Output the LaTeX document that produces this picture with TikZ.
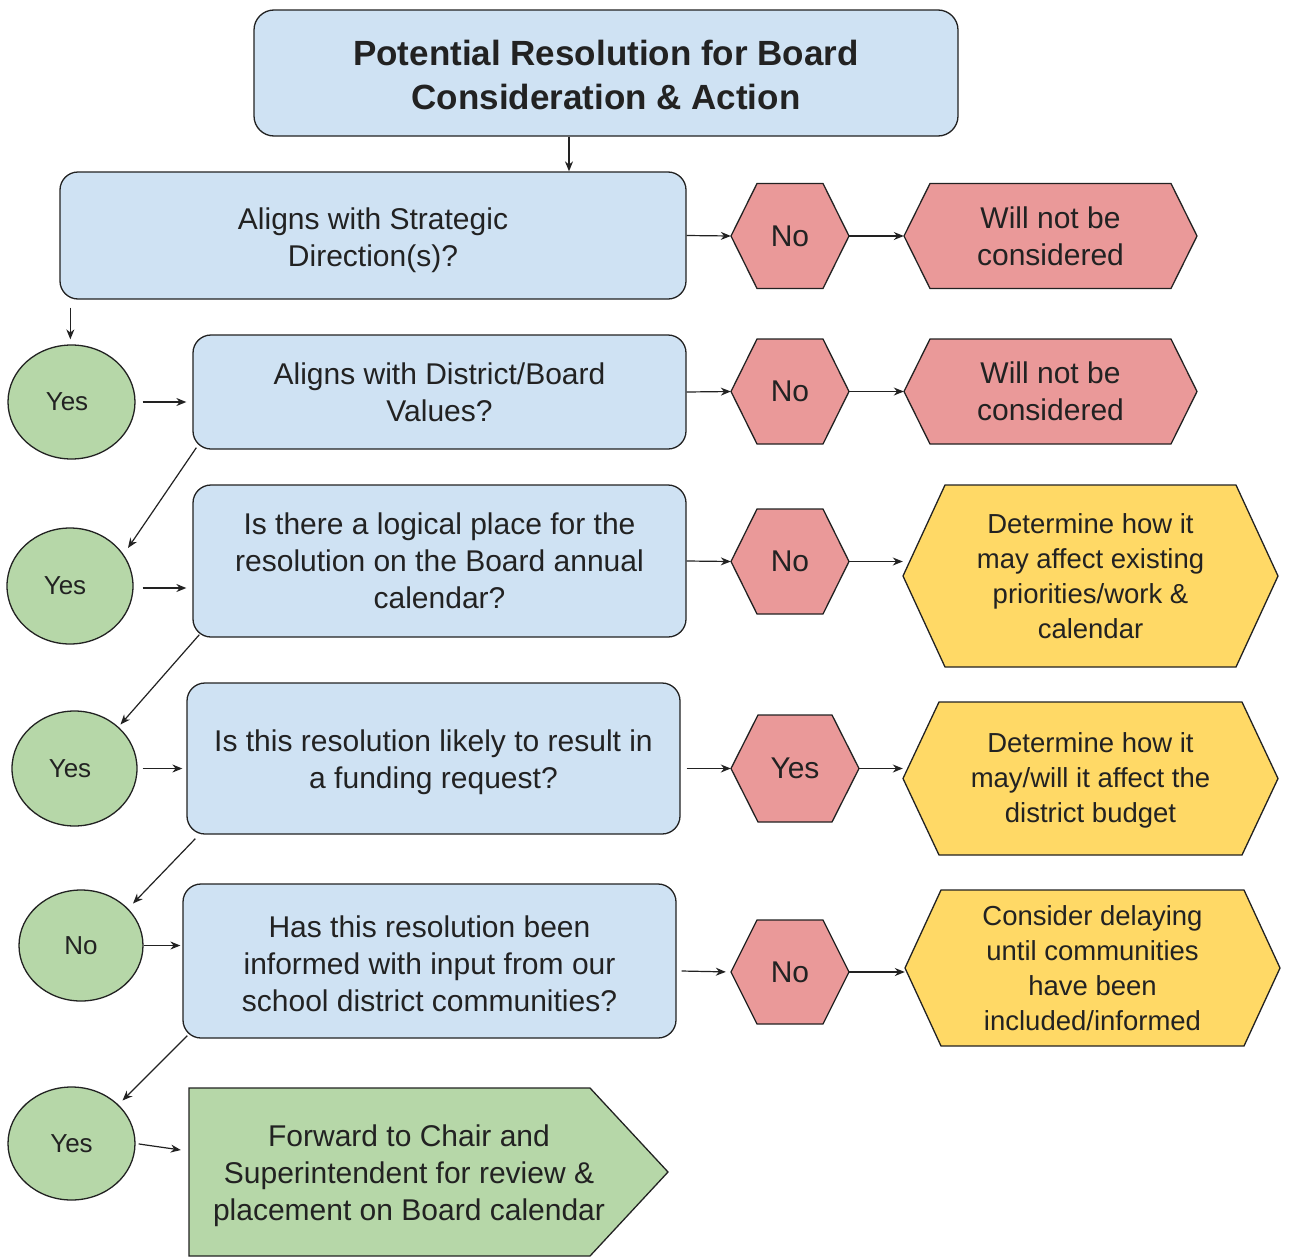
\documentclass[tikz,border=0pt]{standalone}
\usepackage{fontspec}
\setmainfont{Liberation Sans}
\usetikzlibrary{arrows.meta,shapes.geometric}
\definecolor{bblue}{HTML}{CFE2F3}
\definecolor{bred}{HTML}{EA9999}
\definecolor{byel}{HTML}{FFD966}
\definecolor{bgreen}{HTML}{B6D7A8}
\definecolor{ink}{HTML}{222222}
\newcommand\ftitle{\fontsize{35}{44}\selectfont\bfseries}
\newcommand\fmain{\fontsize{30}{37}\selectfont}
\newcommand\fyel{\fontsize{27.5}{35}\selectfont}
\newcommand\fyes{\fontsize{26}{32}\selectfont}
% name, fill, cx, cy, halfwidth, halfheight, inset, font, text
\newcommand\hexbox[9]{%
  \path[draw=ink, line width=1.3pt, fill=#2] (#3-#5,#4) -- (#3-#5+#7,#4-#6) -- (#3+#5-#7,#4-#6) -- (#3+#5,#4) -- (#3+#5-#7,#4+#6) -- (#3-#5+#7,#4+#6) -- cycle;
  \node[hexlabel, minimum width=2*#5, minimum height=2*#6, font=#8] (#1) at (#3,#4) {#9};
}
\tikzset{
  hexlabel/.style={inner sep=0pt, align=center, text=ink},
  rbox/.style={draw=ink, line width=1.3pt, fill=bblue, rounded corners=18pt, align=center, inner sep=0pt, font=\fmain, text=ink},
  circ/.style={ellipse, draw=ink, line width=1.3pt, fill=bgreen, inner sep=0pt, font=\fyes, text=ink},
  arr/.style={draw=ink, line width=1.2pt, -{Stealth[length=10pt,width=8pt]}}
}
\begin{document}
\begin{tikzpicture}[x=1pt,y=-1pt]
\fill[white] (0,0) rectangle (1293,1258);
\useasboundingbox (0,0) rectangle (1293,1258);

% blue question boxes
\node[rbox, font=\ftitle, minimum width=704, minimum height=126, rounded corners=20pt] (title) at (606,73) {\rule{0pt}{29pt}Potential Resolution for Board\\Consideration \& Action};
\node[rbox, minimum width=626, minimum height=127] (b1) at (373,235.5) {\rule{0pt}{31pt}Aligns with Strategic\\Direction(s)?};
\node[rbox, minimum width=493, minimum height=114] (b2) at (439.5,392) {Aligns with District/Board\\Values?};
\node[rbox, minimum width=493, minimum height=152] (b3) at (439.5,561) {Is there a logical place for the\\resolution on the Board annual\\calendar?};
\node[rbox, minimum width=493, minimum height=151] (b4) at (433.5,758.5) {\rule{0pt}{30pt}Is this resolution likely to result in\\a funding request?};
\node[rbox, minimum width=493, minimum height=154] (b5) at (429.5,961) {\rule{0pt}{27pt}Has this resolution been\\informed with input from our\\school district communities?};

% green circles
\node[circ, minimum width=127, minimum height=114] (c1) at (71.5,402) {Yes\hspace*{9pt}};
\node[circ, minimum width=126, minimum height=116] (c2) at (70,586) {Yes\hspace*{10pt}};
\node[circ, minimum width=125, minimum height=115] (c3) at (74.5,768.5) {Yes\hspace*{9pt}};
\node[circ, minimum width=124, minimum height=111] (c4) at (81,945.5) {No};
\node[circ, minimum width=127, minimum height=113] (c5) at (71.5,1143.5) {Yes};

% red decision hexagons
\hexbox{h1}{bred}{790}{236}{59}{52.5}{26}{\fmain}{No}
\hexbox{h2}{bred}{790}{391.5}{59}{52.5}{26}{\fmain}{No}
\hexbox{h3}{bred}{790}{561.5}{59}{52.5}{26}{\fmain}{No}
\hexbox{h4}{bred}{795}{768.5}{64}{53.5}{27}{\fmain}{Yes}
\hexbox{h5}{bred}{790}{972}{59}{52}{26}{\fmain}{No}

% outcome hexagons
\hexbox{w1}{bred}{1050.5}{236}{146.5}{52.5}{26}{\fmain}{Will not be\\considered}
\hexbox{w2}{bred}{1050.5}{391.5}{146.5}{52.5}{26}{\fmain}{Will not be\\considered}
\hexbox{y3}{byel}{1090.5}{576}{187.5}{91}{42}{\fyel}{Determine how it\\may affect existing\\priorities/work \&\\calendar}
\hexbox{y4}{byel}{1090.5}{778.5}{187.5}{76.5}{36}{\fyel}{\rule{0pt}{24pt}Determine how it\\may/will it affect the\\district budget}
\hexbox{y5}{byel}{1092.5}{968}{187.5}{78}{36}{\fyel}{Consider delaying\\until communities\\have been\\included/informed}

% final pentagon
\path[draw=ink, line width=1.3pt, fill=bgreen] (189,1088) -- (590,1088) -- (668,1172) -- (590,1256) -- (189,1256) -- cycle;
\node[inner sep=0pt, minimum width=479, minimum height=168] (fin) at (428.5,1172) {};
\node[inner sep=0pt, align=center, font=\fmain, text=ink] (fintext) at (409,1176) {Forward to Chair and\\Superintendent for review \&\\placement on Board calendar};

% connectors
\draw[arr] ([xshift=-37pt]title.south) -- ([xshift=-37pt]title.south |- b1.north);
\draw[arr, shorten <=8pt, shorten >=5pt] ([xshift=11pt]b1.south west) -- ([xshift=11pt]b1.south west |- c1.north);
\draw[arr, shorten <=7pt, shorten >=6pt] (c1.east) -- (c1.east -| b2.west);
\draw[arr] ([shift={(4,-2)}]b2.south west) -- ([shift={(58,-38)}]c2.center);
\draw[arr, shorten <=9pt, shorten >=6pt] (c2.east |- 0,588) -- (b3.west |- 0,588);
\draw[arr] ([shift={(7,-3)}]b3.south west) -- ([shift={(46,-44)}]c3.center);
\draw[arr, shorten <=5pt, shorten >=4pt] (c3.east) -- (c3.east -| b4.west);
\draw[arr] ([shift={(9,4)}]b4.south west) -- ([shift={(52,-42)}]c4.center);
\draw[arr, shorten >=2pt] (c4.east) -- (c4.east -| b5.west);
\draw[arr] ([shift={(5,-3)}]b5.south west) -- ([shift={(51,-43)}]c5.center);
\draw[arr, shorten <=3pt] (c5.east) -- ([shift={(-8,-22)}]fin.west);

\draw[arr] (b1.east) -- (h1.west);
\draw[arr] (h1.east) -- (w1.west);
\draw[arr] (b2.east) -- (h2.west);
\draw[arr] (h2.east) -- (w2.west);
\draw[arr] (b3.east) -- (h3.west);
\draw[arr] (h3.east) -- (h3.east -| y3.west);
\draw[arr] ([shift={(6,10)}]b4.east) -- (h4.west);
\draw[arr] (h4.east) -- (h4.east -| y4.west);
\draw[arr, shorten >=5pt] ([shift={(5,10)}]b5.east) -- (h5.west);
\draw[arr] (h5.east) -- (h5.east -| y5.west);
\end{tikzpicture}
\end{document}
